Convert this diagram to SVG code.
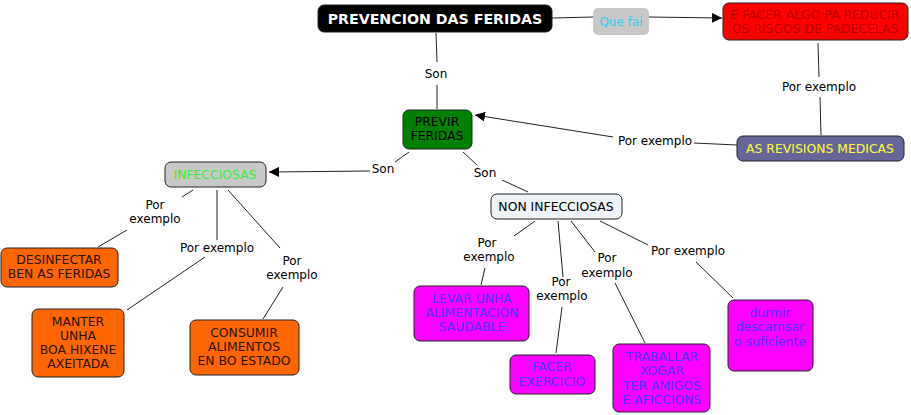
<svg xmlns="http://www.w3.org/2000/svg" width="911" height="415" viewBox="0 0 911 415">
<defs>
<marker id="arr" viewBox="0 0 10 10" refX="10" refY="5" markerWidth="10" markerHeight="10" markerUnits="userSpaceOnUse" orient="auto">
<path d="M0,0 L10,5 L0,10 z" fill="#000"/>
</marker>
</defs>
<style>
text{font-family:"DejaVu Sans",Verdana,sans-serif;font-size:12px;text-anchor:middle}
.n text{font-size:12.4px}
.box{stroke:#222;stroke-width:1}
.lbl{fill:#000}
.c line{stroke:#222;stroke-width:1;fill:none}
.or{fill:#ff6600}
.or-t{fill:#2a1200}
.mg{fill:#ff00ff}
.mg-t{fill:#4a33ff}
</style>
<rect width="911" height="415" fill="#fff"/>
<g class="c" id="connectors">
<line x1="552" y1="18" x2="593" y2="17"/>
<line x1="649" y1="17" x2="722" y2="18" marker-end="url(#arr)"/>
<line x1="436" y1="33" x2="437" y2="62"/>
<line x1="437" y1="85" x2="437" y2="109"/>
<line x1="818" y1="43" x2="819" y2="77"/>
<line x1="820" y1="97" x2="821" y2="135"/>
<line x1="737" y1="145" x2="694" y2="143"/>
<line x1="613" y1="137" x2="475" y2="115" marker-end="url(#arr)"/>
<line x1="409" y1="152" x2="395" y2="162"/>
<line x1="370" y1="171" x2="269" y2="172" marker-end="url(#arr)"/>
<line x1="463" y1="152" x2="477" y2="165"/>
<line x1="502" y1="180" x2="528" y2="192"/>
<line x1="193" y1="190" x2="182" y2="197"/>
<line x1="127" y1="230" x2="98" y2="247"/>
<line x1="217" y1="190" x2="217" y2="240"/>
<line x1="205" y1="257" x2="127" y2="310"/>
<line x1="228" y1="190" x2="280" y2="248"/>
<line x1="283" y1="287" x2="263" y2="319"/>
<line x1="535" y1="221" x2="514" y2="236"/>
<line x1="485" y1="268" x2="481" y2="285"/>
<line x1="558" y1="221" x2="563" y2="277"/>
<line x1="562" y1="307" x2="556" y2="353"/>
<line x1="571" y1="221" x2="595" y2="252"/>
<line x1="615" y1="283" x2="645" y2="343"/>
<line x1="600" y1="221" x2="648" y2="245"/>
<line x1="696" y1="262" x2="733" y2="298"/>
</g>
<g id="labels">
<rect x="593" y="8" width="56" height="27" rx="5" fill="#c8c8c8"/>
<text x="621" y="26" fill="#33ccee">Que fai</text>
<text class="lbl" x="436" y="78">Son</text>
<text class="lbl" x="819" y="91">Por exemplo</text>
<text class="lbl" x="655" y="145">Por exemplo</text>
<text class="lbl" x="383" y="173">Son</text>
<text class="lbl" x="485" y="177">Son</text>
<text class="lbl" x="155" y="209">Por</text>
<text class="lbl" x="155" y="223">exemplo</text>
<text class="lbl" x="217" y="252">Por exemplo</text>
<text class="lbl" x="292" y="265">Por</text>
<text class="lbl" x="292" y="279">exemplo</text>
<text class="lbl" x="487" y="247">Por</text>
<text class="lbl" x="489" y="261">exemplo</text>
<text class="lbl" x="561" y="286">Por</text>
<text class="lbl" x="562" y="300">exemplo</text>
<text class="lbl" x="607" y="262">Por</text>
<text class="lbl" x="607" y="277">exemplo</text>
<text class="lbl" x="688" y="255">Por exemplo</text>
</g>
<g id="n-prevencion">
<rect class="box" x="318" y="5" width="234" height="27" rx="6" fill="#000"/>
<text x="435" y="24" fill="#fff" style="font-weight:bold;font-size:14.2px">PREVENCION DAS FERIDAS</text>
</g>
<g id="n-facer" class="n">
<rect class="box" x="723" y="3" width="185" height="37" rx="6" fill="#ff0000"/>
<text x="815" y="19" fill="#b80000">E FACER ALGO PA REDUCIR</text>
<text x="815" y="33" fill="#b80000">OS RISGOS DE PADECELAS</text>
</g>
<g id="n-previr" class="n">
<rect class="box" x="403" y="110" width="69" height="39" rx="6" fill="#008000"/>
<text x="437" y="126" fill="#000">PREVIR</text>
<text x="437" y="140" fill="#000">FERIDAS</text>
</g>
<g id="n-revisions" class="n">
<rect class="box" x="737" y="136" width="167" height="25" rx="6" fill="#666699"/>
<text x="820" y="153" fill="#ffff33">AS REVISIONS MEDICAS</text>
</g>
<g id="n-infecciosas" class="n">
<rect class="box" x="165" y="162" width="101" height="25" rx="6" fill="#c8c8c8"/>
<text x="215" y="179" fill="#33ee33">INFECCIOSAS</text>
</g>
<g id="n-noninf" class="n">
<rect class="box" x="491" y="194" width="131" height="25" rx="6" fill="#eef3f7"/>
<text x="556" y="211" fill="#000">NON INFECCIOSAS</text>
</g>
<g id="n-desinfectar" class="n">
<rect class="box or" x="1" y="248" width="117" height="39" rx="6"/>
<text class="or-t" x="59" y="264">DESINFECTAR</text>
<text class="or-t" x="59" y="278">BEN AS FERIDAS</text>
</g>
<g id="n-manter" class="n">
<rect class="box or" x="32" y="309" width="92" height="68" rx="6"/>
<text class="or-t" x="78" y="326">MANTER</text>
<text class="or-t" x="78" y="340">UNHA</text>
<text class="or-t" x="78" y="354">BOA HIXENE</text>
<text class="or-t" x="78" y="368">AXEITADA</text>
</g>
<g id="n-consumir" class="n">
<rect class="box or" x="190" y="320" width="109" height="55" rx="6"/>
<text class="or-t" x="244" y="337">CONSUMIR</text>
<text class="or-t" x="244" y="351">ALIMENTOS</text>
<text class="or-t" x="244" y="365">EN BO ESTADO</text>
</g>
<g id="n-levar" class="n">
<rect class="box mg" x="414" y="286" width="115" height="55" rx="6"/>
<text class="mg-t" x="472" y="303">LEVAR UNHA</text>
<text class="mg-t" x="472" y="317">ALIMENTACION</text>
<text class="mg-t" x="472" y="331">SAUDABLE</text>
</g>
<g id="n-exercicio" class="n">
<rect class="box mg" x="510" y="355" width="85" height="39" rx="6"/>
<text class="mg-t" x="552" y="371">FACER</text>
<text class="mg-t" x="552" y="386">EXERCICIO</text>
</g>
<g id="n-traballar" class="n">
<rect class="box mg" x="613" y="344" width="97" height="68" rx="6"/>
<text class="mg-t" x="662" y="361">TRABALLAR</text>
<text class="mg-t" x="662" y="375">XOGAR</text>
<text class="mg-t" x="662" y="390">TER AMIGOS</text>
<text class="mg-t" x="662" y="404">E AFICCIONS</text>
</g>
<g id="n-durmir" class="n">
<rect class="box mg" x="728" y="300" width="85" height="71" rx="6"/>
<text class="mg-t" x="770" y="317">durmir</text>
<text class="mg-t" x="770" y="331">descarnsar</text>
<text class="mg-t" x="770" y="346">o suficiente</text>
</g>
</svg>
